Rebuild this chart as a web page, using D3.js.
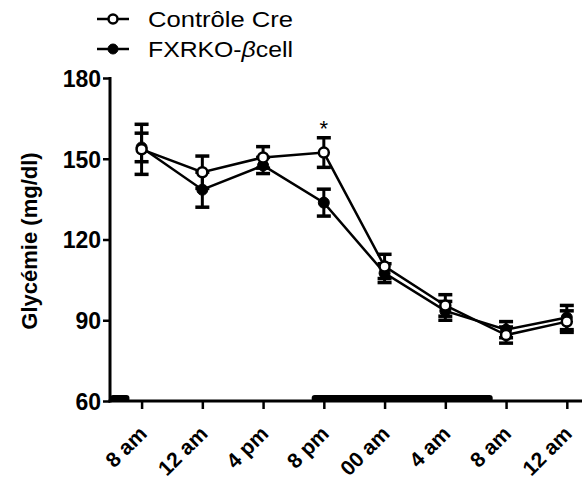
<!DOCTYPE html>
<html><head><meta charset="utf-8">
<script src="https://cdn.jsdelivr.net/npm/d3@7"></script>
<style>body{margin:0;background:#fff}</style>
</head><body><svg id="c" width="585" height="482"></svg>
<script>
const categories = ["8 am","12 am","4 pm","8 pm","00 am","4 am","8 am ","12 am "];
const controleMean = [153.5,145,150.5,152.3,110,95.5,84.5,89.5];
const controleSem  = [9.3,6,4,5.5,4.5,4,3,4];
const fxrkoMean    = [154.2,138.5,147.5,133.7,107.5,93.5,86.5,91];
const fxrkoSem     = [5.3,6.5,3,5,3.5,3.5,3,4.5];
const yTicks = [60,90,120,150,180];
const darkPeriods = [[-0.52,-0.2],[2.8,5.78]]; // in category index units
const starAt = 3;

const svg = d3.select("#c");
const font = "'Liberation Sans', Arial, sans-serif";
const x = d3.scaleLinear().domain([-0.52, 7.25]).range([110, 582]);
const y = d3.scaleLinear().domain([60,180]).range([401,78]);

// Y axis
const ya = svg.append("g").attr("transform","translate(110,0)")
  .call(d3.axisLeft(y).tickValues(yTicks).tickSize(7).tickPadding(2));
ya.select(".domain").attr("stroke","#000").attr("stroke-width",3).attr("d","M0,"+(y(180)-1)+"V"+(y(60)+1.5));
ya.selectAll(".tick line").attr("stroke-width",2.5);
ya.selectAll(".tick text").attr("font-family",font).attr("font-size",23).attr("font-weight","bold").attr("fill","#000").attr("dy","0.36em");

// X axis
const xa = svg.append("g").attr("transform","translate(0,401)")
  .call(d3.axisBottom(x).tickValues(d3.range(categories.length)).tickSize(8).tickFormat(""));
xa.select(".domain").attr("stroke-width",3).attr("d","M108.5,0H582");
xa.selectAll(".tick line").attr("stroke-width",2.5);
xa.selectAll(".tick").append("text")
  .attr("font-family",font).attr("font-size",21).attr("font-weight","bold").attr("fill","#000")
  .attr("text-anchor","end")
  .attr("transform","translate(6,34) rotate(-45)")
  .text((d,i)=>categories[i].trim());

// dark period bars
svg.append("g").selectAll("rect").data(darkPeriods).join("rect")
  .attr("x",d=>x(d[0])).attr("width",d=>x(d[1])-x(d[0]))
  .attr("y",395).attr("height",7).attr("rx",3).attr("fill","#000");

// Y title
svg.append("text").attr("transform","translate(37,241) rotate(-90)")
  .attr("text-anchor","middle").attr("font-family",font).attr("font-size",22).attr("font-weight","bold")
  .text("Glycémie (mg/dl)");

const line = d3.line().x((d,i)=>x(i)).y(d=>y(d));
function series(mean, sem, open){
  const g = svg.append("g");
  g.append("path").datum(mean).attr("d",line).attr("fill","none").attr("stroke","#000").attr("stroke-width",2.5);
  mean.forEach((m,i)=>{
    const cx = x(i), t=y(m+sem[i]), b=y(m-sem[i]);
    g.append("line").attr("x1",cx).attr("x2",cx).attr("y1",t).attr("y2",b).attr("stroke","#000").attr("stroke-width",3);
    [t,b].forEach(v=>g.append("line").attr("x1",cx-7).attr("x2",cx+7).attr("y1",v).attr("y2",v).attr("stroke","#000").attr("stroke-width",3.5));
  });
  g.selectAll("circle").data(mean).join("circle")
    .attr("cx",(d,i)=>x(i)).attr("cy",d=>y(d)).attr("r",open?5:5.5)
    .attr("fill",open?"#fff":"#000").attr("stroke","#000").attr("stroke-width",open?2.5:1);
}
series(fxrkoMean, fxrkoSem, false);
series(controleMean, controleSem, true);

// star
svg.append("text").attr("x",x(starAt)).attr("y",y(controleMean[starAt]+controleSem[starAt])-2)
  .attr("text-anchor","middle").attr("font-family",font).attr("font-size",22).text("*");

// legend
const leg = [{t:"Contrôle Cre",open:true,y:19},{t:"FXRKO-",open:false,y:49}];
leg.forEach(l=>{
  svg.append("line").attr("x1",97).attr("x2",129).attr("y1",l.y).attr("y2",l.y).attr("stroke","#000").attr("stroke-width",2.5);
  svg.append("circle").attr("cx",113).attr("cy",l.y).attr("r",l.open?4.5:5)
    .attr("fill",l.open?"#fff":"#000").attr("stroke","#000").attr("stroke-width",l.open?2.5:1);
  const tx = svg.append("text").attr("x",148).attr("y",l.y+8).attr("font-family",font).attr("font-size",22)
    .attr("textLength",145).attr("lengthAdjust","spacingAndGlyphs").text(l.t);
  if(!l.open){
    tx.append("tspan").attr("font-style","italic").text("β");
    tx.append("tspan").text("cell");
  }
});
</script></body></html>
